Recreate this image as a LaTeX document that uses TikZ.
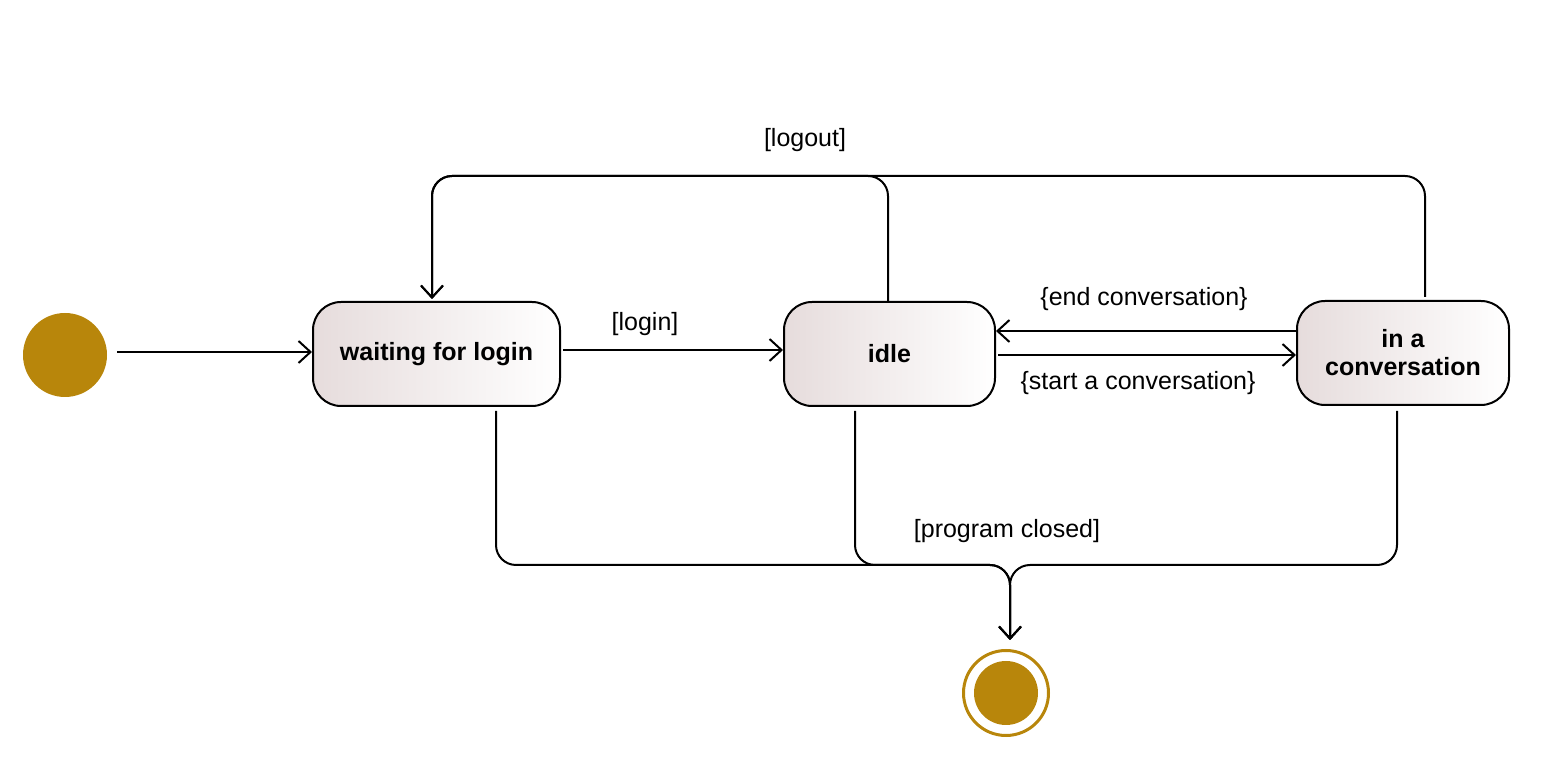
\documentclass[tikz,border=0pt]{standalone}
\usepackage{fontspec}
\setmainfont{Liberation Sans}
\usetikzlibrary{arrows.meta,calc}
\definecolor{gold}{RGB}{184,134,11}
\definecolor{stateL}{RGB}{230,220,220}
\begin{document}
\begin{tikzpicture}[x=0.5pt,y=-0.5pt,
  statebox/.style={draw=black,line width=1pt,rounded corners=14pt,
    left color=stateL,right color=white,minimum height=52pt,inner sep=0pt,
    align=center,font=\fontsize{12.5}{14}\selectfont\bfseries},
  lbl/.style={inner sep=0pt,font=\fontsize{12.5}{14}\selectfont},
  conn/.style={draw=black,line width=1pt,rounded corners=10pt},
  arr/.style={-{Straight Barb[length=6pt,width=11pt,line width=1pt]}}]
\useasboundingbox (0,0) rectangle (1549,769);
% initial
\node[circle,fill=gold,minimum size=42pt,inner sep=0pt] (init) at (65,355) {};
% states
\node[statebox,minimum width=123.5pt] (wait) at (436.5,354) {waiting for login};
\node[statebox,minimum width=105.5pt] (idle) at (889.5,354) {idle};
\node[statebox,minimum width=106pt] (conv) at (1403,353) {in a\\conversation};
% final
\node[circle,draw=gold,line width=1.5pt,minimum size=42.5pt,inner sep=0pt] (final) at (1006,693) {};
\fill[gold] (final.center) circle (16pt);
% transitions
\draw[conn,arr] ($(init.east)+(10,-3)$) -- ($(wait.west)+(0,-2)$);
\draw[conn,arr] ($(wait.east)+(2,-4)$) -- ($(idle.west)+(0,-4)$);
\node[lbl] (llogin) at (645,324) {[login]};
\draw[conn,arr] ($(idle.east)+(2,1)$) -- ($(conv.west)+(0,2)$);
\node[lbl] (lstart) at (1138,383) {\{start a conversation\}};
\draw[conn,arr] ($(conv.west)+(0,-22)$) -- ($(idle.east)+(0,-23)$);
\node[lbl] (lend) at (1144,299) {\{end conversation\}};
% logout
\coordinate (lgtop) at (432,176);
\draw[conn,arr] ($(idle.north)+(-1.5,0)$) |- (lgtop) -- ($(wait.north)+(-4.5,-2)$);
\draw[conn,arr] ($(conv.north)+(22,-3)$) |- (lgtop) -- ($(wait.north)+(-4.5,-2)$);
\node[lbl] (llogout) at (805,140) {[logout]};
% program closed
\coordinate (pcm) at (1010,565);
\coordinate (pce) at (1010,640);
\draw[conn,arr] ($(wait.south)+(59.5,4)$) |- (pcm) -- (pce);
\draw[conn,arr] ($(idle.south)+(-34.5,4)$) |- (pcm) -- (pce);
\draw[conn,arr] ($(conv.south)+(-6,5)$) |- (pcm) -- (pce);
\node[lbl] (lclosed) at (1007,531) {[program closed]};
\end{tikzpicture}
\end{document}
